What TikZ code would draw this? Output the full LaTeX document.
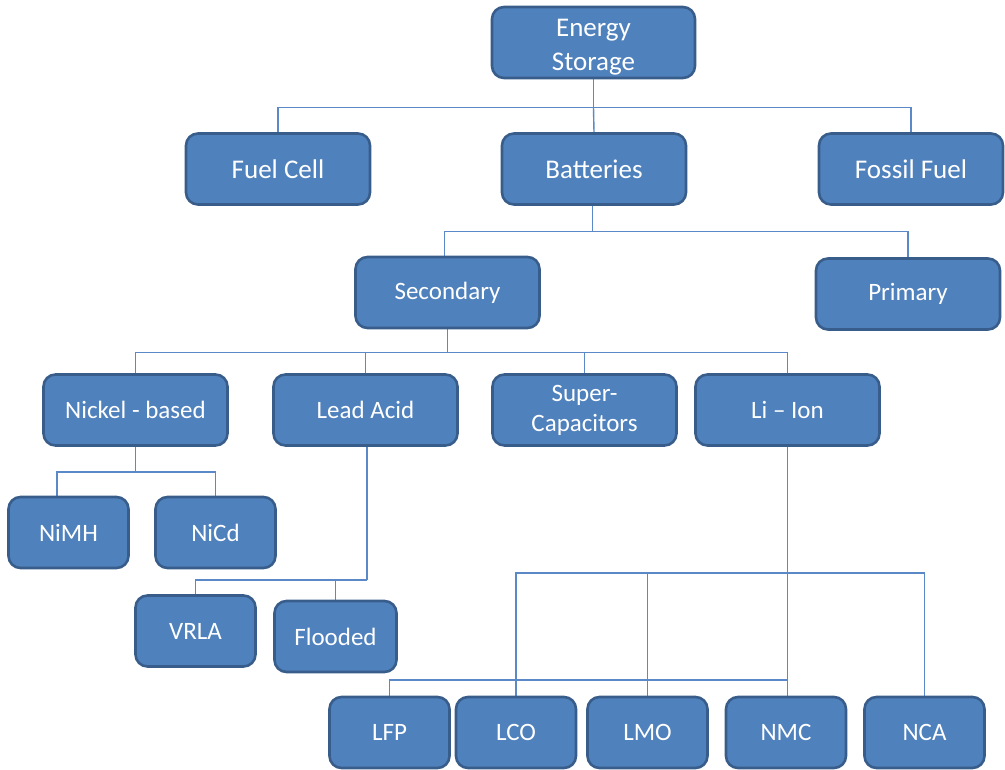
\documentclass[tikz,border=0pt]{standalone}
\usepackage{fontspec}
\setmainfont{Carlito}
\usetikzlibrary{backgrounds}
\definecolor{boxfill}{RGB}{79,129,189}
\definecolor{boxdraw}{RGB}{56,93,138}
\definecolor{linec}{RGB}{91,137,199}
\begin{document}
\begin{tikzpicture}[x=1pt,y=-1pt,
  box/.style={draw=boxdraw, fill=boxfill, line width=2.6pt, rounded corners=12pt,
    text=white, align=center, inner sep=0pt, minimum width=184pt, minimum height=71pt,
    font=\fontsize{25}{30}\selectfont},
  bigbox/.style={box, font=\fontsize{27}{34}\selectfont},
  smallbox/.style={box, minimum width=120pt},
  conn/.style={draw=linec, line width=1.4pt}]
\useasboundingbox (0,0) rectangle (1005,770);
% nodes
\node[bigbox, minimum width=203pt] (es) at (593.5,42.5) {\raisebox{-5pt}[\height][\depth]{\parbox{150pt}{\centering Energy\\Storage}}};
\node[bigbox] (fc) at (278,169) {Fuel Cell};
\node[bigbox] (bat) at (594,169) {Batteries};
\node[bigbox] (ff) at (911,169) {Fossil Fuel};
\node[box] (sec) at (447.5,292.5) {Secondary};
\node[box] (pri) at (908,294) {Primary};
\node[box] (nb) at (135.5,410) {Nickel - based};
\node[box] (la) at (365.5,410) {Lead Acid};
\node[box] (sc) at (584.5,410) {Super-\\Capacitors};
\node[box] (li) at (787.5,410) {Li – Ion};
\node[smallbox] (nimh) at (68.5,532.5) {NiMH};
\node[smallbox] (nicd) at (215.5,532.5) {NiCd};
\node[smallbox] (vrla) at (195.5,631) {VRLA};
\node[smallbox, minimum width=122pt] (fl) at (335.5,636.5) {Flooded};
\node[smallbox] (lfp) at (389.5,732.5) {LFP};
\node[smallbox] (lco) at (516,732.5) {LCO};
\node[smallbox] (lmo) at (647.5,732.5) {LMO};
\node[smallbox] (nmc) at (786,732.5) {NMC};
\node[smallbox] (nca) at (924.5,732.5) {NCA};
% connectors (behind the boxes)
\begin{scope}[on background layer]
  % Energy Storage
  \draw[conn] (es.south) -- ++(0,28) coordinate (j1);
  \draw[conn] (fc.north) |- (j1) -| (ff.north);
  \draw[conn] (j1) -- (bat.north);
  % Batteries
  \draw[conn] ([xshift=-1.5pt]bat.south) -- ++(0,26) coordinate (j2);
  \draw[conn] ([xshift=-3pt]sec.north) |- (j2) -| (pri.north);
  % Secondary
  \draw[conn] (sec.south) -- ++(0,23) coordinate (j3);
  \draw[conn] (nb.north) |- (j3) -| (li.north);
  \draw[conn] (la.north) -- (la.north |- j3);
  \draw[conn] (sc.north) -- (sc.north |- j3);
  % Nickel-based
  \draw[conn] (nb.south) -- ++(0,25) coordinate (j4);
  \draw[conn] ([xshift=-11.5pt]nimh.north) |- (j4) -| (nicd.north);
  % Lead Acid
  \draw[conn] ([xshift=1.5pt]la.south) -- ++(0,133) coordinate (j5);
  \draw[conn] (vrla.north) |- (j5);
  \draw[conn] (fl.north) -- (fl.north |- j5);
  % Li-Ion
  \draw[conn] (li.south) -- (li.south |- nmc.north);
  \path (li.south) ++(0,126) coordinate (j6);
  \path (li.south) ++(0,233) coordinate (j7);
  \draw[conn] (lco.north) |- (j6) -| (nca.north);
  \draw[conn] (lmo.north) -- (lmo.north |- j6);
  \draw[conn] (lfp.north) |- (j7);
\end{scope}
\end{tikzpicture}
\end{document}
